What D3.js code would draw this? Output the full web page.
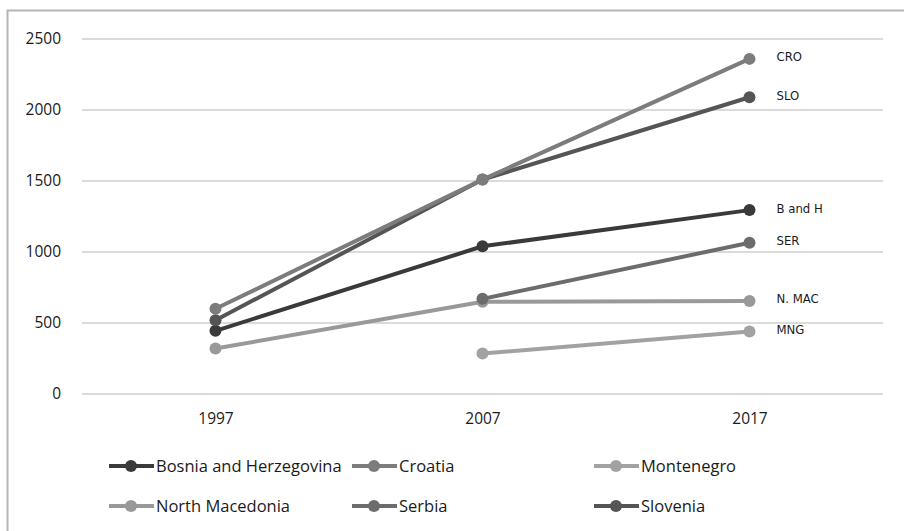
<html>
<head>
	<script src="https://d3js.org/d3.v7.min.js"></script>
	<style>
	body { margin: 0; background: #fff; }
	</style>
</head>
<body>
	<div id="viz"></div>

	<script>
	// data
	var years = ["1997", "2007", "2017"];
	var countries = ["Bosnia and Herzegovina", "Croatia", "Montenegro", "North Macedonia", "Serbia", "Slovenia"];
	var shortNames = ["B and H", "CRO", "MNG", "N. MAC", "SER", "SLO"];
	var bih = [445, 1040, 1295];
	var cro = [600, 1510, 2360];
	var mng = [null, 285, 440];
	var nmac = [320, 650, 655];
	var ser = [null, 670, 1065];
	var slo = [520, 1510, 2090];
	var yTicks = [0, 500, 1000, 1500, 2000, 2500];

	var series = [bih, cro, mng, nmac, ser, slo];
	var colors = ["#3a3a3a", "#7c7c7c", "#a2a2a2", "#999999", "#6c6c6c", "#555555"];
	// draw order so lighter lines sit under darker ones like the original
	var drawOrder = [3, 2, 4, 0, 5, 1];

	var W = 904, H = 531;
	var margin = {left: 82, right: 21, top: 39, bottom: 137};

	var svg = d3.select("#viz").append("svg")
		.attr("width", W).attr("height", H);

	// outer frame
	svg.append("rect")
		.attr("x", 7.5).attr("y", 10.5)
		.attr("width", W).attr("height", H)
		.style("fill", "none").style("stroke", "#b5b5b5").style("stroke-width", 2);

	var x = d3.scalePoint()
		.domain(years)
		.range([margin.left, W - margin.right])
		.padding(0.5);

	var y = d3.scaleLinear()
		.domain([0, 2500])
		.range([H - margin.bottom, margin.top]);

	// gridlines
	svg.selectAll("line.grid")
		.data(yTicks)
		.enter().append("line")
		.attr("class", "grid")
		.attr("x1", margin.left).attr("x2", W - margin.right)
		.attr("y1", function(d) { return y(d); })
		.attr("y2", function(d) { return y(d); })
		.style("stroke", "#cfcfcf").style("stroke-width", 1.3);

	// y axis labels
	var yAxis = d3.axisLeft(y).tickValues(yTicks).tickFormat(d3.format("d")).tickSize(0).tickPadding(0);
	svg.append("g")
		.attr("transform", "translate(61,0)")
		.call(yAxis)
		.call(function(g) { g.select(".domain").remove(); })
		.selectAll("text")
		.style("font-family", "'Open Sans', sans-serif")
		.style("font-size", "15.5px")
		.style("fill", "#1a1a1a");

	// x axis labels
	var xAxis = d3.axisBottom(x).tickSize(0).tickPadding(0);
	svg.append("g")
		.attr("transform", "translate(0," + 413 + ")")
		.call(xAxis)
		.call(function(g) { g.select(".domain").remove(); })
		.selectAll("text")
		.style("font-family", "'Open Sans', sans-serif")
		.style("font-size", "15.5px")
		.style("fill", "#1a1a1a");

	var line = d3.line()
		.defined(function(d) { return d != null; })
		.x(function(d, i) { return x(years[i]); })
		.y(function(d) { return y(d); });

	drawOrder.forEach(function(k) {
		var g = svg.append("g");
		g.append("path")
			.datum(series[k])
			.attr("d", line)
			.style("fill", "none")
			.style("stroke", colors[k])
			.style("stroke-width", 4);

		g.selectAll("circle")
			.data(series[k].map(function(v, i) { return {v: v, i: i}; }).filter(function(d) { return d.v != null; }))
			.enter().append("circle")
			.attr("cx", function(d) { return x(years[d.i]); })
			.attr("cy", function(d) { return y(d.v); })
			.attr("r", 6)
			.style("fill", colors[k]);

		// short label at the 2017 end
		g.append("text")
			.attr("x", x("2017") + 27)
			.attr("y", y(series[k][2]) + 2.5)
			.text(shortNames[k])
			.style("font-family", "'DejaVu Sans Condensed', sans-serif")
			.style("font-size", "13px")
			.style("fill", "#1a1a1a");
	});

	// legend, two rows of three
	var legX = [109, 352, 594];
	var legY = [466, 506];
	countries.forEach(function(name, k) {
		var lx = legX[k % 3], ly = legY[Math.floor(k / 3)];
		var lg = svg.append("g");
		lg.append("line")
			.attr("x1", lx).attr("x2", lx + 45)
			.attr("y1", ly).attr("y2", ly)
			.style("stroke", colors[k]).style("stroke-width", 4);
		lg.append("circle")
			.attr("cx", lx + 22).attr("cy", ly).attr("r", 6)
			.style("fill", colors[k]);
		lg.append("text")
			.attr("x", lx + 47).attr("y", ly + 6)
			.text(name)
			.style("font-family", "'Open Sans', sans-serif")
			.style("font-size", "16.5px")
			.style("fill", "#1a1a1a");
	});
	</script>
</body>
</html>
